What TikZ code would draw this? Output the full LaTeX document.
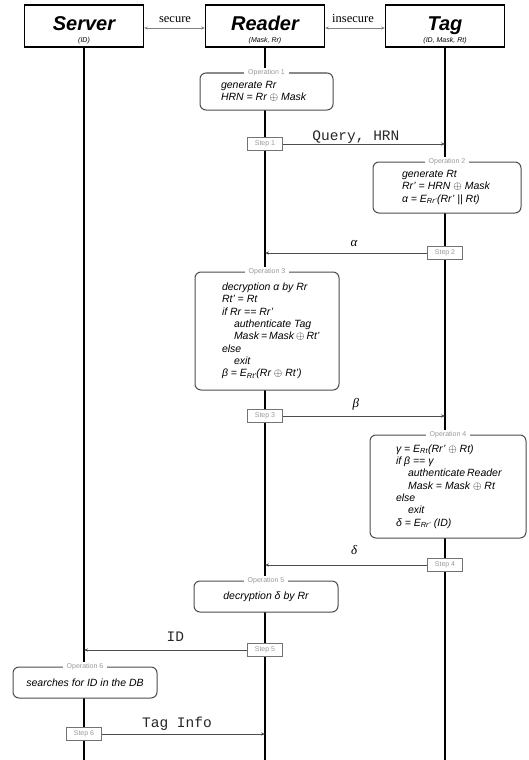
\documentclass[tikz,border=0pt]{standalone}
\usepackage{fontspec}
\setmainfont{Liberation Sans}
\newfontfamily\serifface{Liberation Serif}
\newfontfamily\monoface{Liberation Mono}
\usetikzlibrary{arrows.meta}

\definecolor{opgray}{gray}{0.3}
\definecolor{lblgray}{gray}{0.6}
\definecolor{stepgray}{gray}{0.45}
\definecolor{msggray}{gray}{0.3}
\definecolor{changray}{gray}{0.5}

% left-aligned operation text: fixed-width lines, fixed line pitch
\newdimen\oplw
\newcommand\opbody[2]{\oplw=#1\relax\vbox{\baselineskip=12.3pt\lineskiplimit=-\maxdimen #2}}
\newcommand\opl[1]{\hbox to \oplw{#1\hfil}}
\newcommand\opi[1]{\hbox to \oplw{\hskip12pt #1\hfil}}

\begin{document}
\begin{tikzpicture}[x=1pt,y=-1pt,
  hdr/.style={draw=black, line width=1.4pt, fill=white, minimum width=119pt, minimum height=42pt, inner sep=0pt},
  hdrtitle/.style={anchor=base, inner sep=0pt, font=\fontsize{20}{24}\selectfont\bfseries\itshape},
  hdrsub/.style={anchor=base, inner sep=0pt, font=\fontsize{7}{8}\selectfont\itshape},
  chan/.style={draw=changray, line width=0.9pt, {Stealth[length=3.5pt,width=3pt]}-{Stealth[length=3.5pt,width=3pt]}},
  chanlbl/.style={anchor=base, inner sep=0pt, font=\serifface\fontsize{12.5}{14}\selectfont},
  life/.style={line width=2pt, draw=black},
  op/.style={draw=opgray, line width=1pt, rounded corners=6pt, fill=white, inner ysep=0pt, font=\fontsize{10.5}{12.3}\selectfont\itshape},
  oplbl/.style={fill=white, inner xsep=4pt, inner ysep=1pt, text=lblgray, font=\fontsize{7}{8}\selectfont},
  stepbox/.style={draw=stepgray, line width=1pt, fill=white, minimum width=35pt, minimum height=13pt, inner sep=0pt, text=lblgray, font=\fontsize{7}{8}\selectfont},
  msg/.style={draw=msggray, line width=0.8pt, -{Stealth[length=4pt,width=3.2pt]}},
  msglbl/.style={anchor=base, inner sep=0pt, text=black!85, font=\monoface\fontsize{14.5}{16}\selectfont},
  grklbl/.style={anchor=base, inner sep=0pt, font=\serifface\itshape\fontsize{13}{15}\selectfont},
]
\useasboundingbox (0,0) rectangle (528,760);

% participants
\node[hdr] (server) at (84,26) {};
\node[hdr] (reader) at (265,26) {};
\node[hdr] (tag) at (445,26) {};
\node[hdrtitle] (server-t) at (84,30.5) {Server};
\node[hdrsub] (server-s) at (84,43) {(ID)};
\node[hdrtitle] (reader-t) at (265,30.5) {Reader};
\node[hdrsub] (reader-s) at (265,43) {(Mask, Rr)};
\node[hdrtitle] (tag-t) at (445,30.5) {Tag};
\node[hdrsub] (tag-s) at (445,43) {(ID, Mask, Rt)};

% channels between participants
\draw[chan] ([yshift=-2pt]server.east) -- ([yshift=-2pt]reader.west);
\draw[chan] ([yshift=-2pt]reader.east) -- ([yshift=-2pt]tag.west);
\node[chanlbl] (secure-l) at (175,22.5) {secure};
\node[chanlbl] (insecure-l) at (353,22.5) {insecure};

% lifelines
\coordinate (bottom) at (0,760);
\draw[life] (server.south) -- (server.south |- bottom);
\draw[life] (reader.south) -- (reader.south |- bottom);
\draw[life] (tag.south) -- (tag.south |- bottom);

% operations
\node[op, inner xsep=21pt, minimum height=37pt] (op1) at (266.5,91.5)
  {\opbody{91pt}{\opl{generate Rr}\opl{HRN = Rr $\oplus$ Mask}}};
\node[op, inner xsep=29pt, minimum height=51pt] (op2) at (447,187.5)
  {\opbody{90pt}{\opl{generate Rt}\opl{Rr' = HRN $\oplus$ Mask}\opl{α = E\textsubscript{Rr'}(Rr' || Rt)}}};
\node[op, inner xsep=27pt, minimum height=118pt] (op3) at (267,331)
  {\opbody{90pt}{\opl{decryption α by Rr}\opl{Rt' = Rt}\opl{if Rr == Rr'}\opi{authenticate Tag}\opi{Mask = Mask $\oplus$ Rt'}\opl{else}\opi{exit}\opl{β = E\textsubscript{Rt'}(Rr $\oplus$ Rt')}}};
\node[op, inner xsep=26pt, minimum height=103pt] (op4) at (448,486.5)
  {\opbody{104pt}{\opl{γ = E\textsubscript{Rt}(Rr' $\oplus$ Rt)}\opl{if β == γ}\opi{authenticate Reader}\opi{Mask = Mask $\oplus$ Rt}\opl{else}\opi{exit}\opl{δ = E\textsubscript{Rr'} (ID)}}};
\node[op, minimum width=144pt, minimum height=31pt] (op5) at (266,596.5) {decryption δ by Rr};
\node[op, minimum width=144pt, minimum height=31pt] (op6) at (85,682.5) {searches for ID in the DB};

\node[oplbl] (op1-l) at (op1.north) {Operation 1};
\node[oplbl] (op2-l) at (op2.north) {Operation 2};
\node[oplbl] (op3-l) at (op3.north) {Operation 3};
\node[oplbl] (op4-l) at (op4.north) {Operation 4};
\node[oplbl] (op5-l) at (op5.north) {Operation 5};
\node[oplbl] (op6-l) at (op6.north) {Operation 6};

% steps
\node[stepbox] (st1) at (265,144) {Step 1};
\node[stepbox] (st2) at (445,253) {Step 2};
\node[stepbox] (st3) at (265,416) {Step 3};
\node[stepbox] (st4) at (445,565) {Step 4};
\node[stepbox] (st5) at (265,650) {Step 5};
\node[stepbox] (st6) at (84,734) {Step 6};

% messages
\draw[msg] (st1.east) -- node[msglbl, pos=0.45, yshift=4pt] (m1) {Query, HRN} (st1.east -| tag.south);
\draw[msg] (st2.west) -- node[grklbl, pos=0.45, yshift=7pt] (m2) {α} (st2.west -| reader.south);
\draw[msg] (st3.east) -- node[grklbl, pos=0.45, yshift=9pt] (m3) {β} (st3.east -| tag.south);
\draw[msg] (st4.west) -- node[grklbl, pos=0.45, yshift=11pt] (m4) {δ} (st4.west -| reader.south);
\draw[msg] (st5.west) -- node[msglbl, pos=0.44, yshift=8.5pt] (m5) {ID} (st5.west -| server.south);
\draw[msg] (st6.east) -- node[msglbl, pos=0.46, yshift=7pt] (m6) {Tag Info} (st6.east -| reader.south);
\end{tikzpicture}
\end{document}
